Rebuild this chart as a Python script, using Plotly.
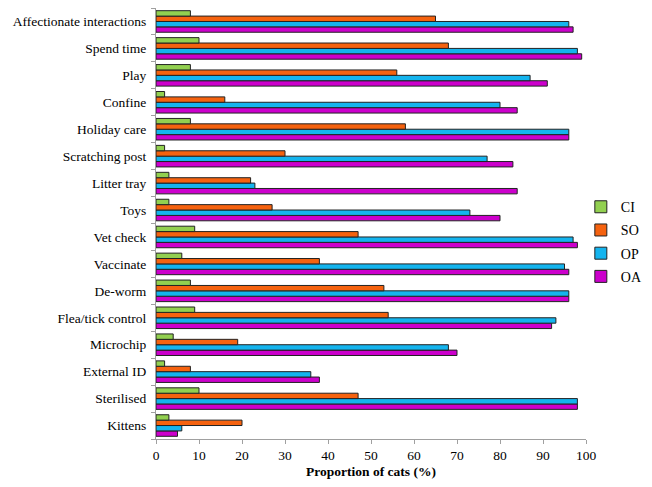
import plotly.graph_objects as go

categories = ["Kittens", "Sterilised", "External ID", "Microchip", "Flea/tick control",
              "De-worm", "Vaccinate", "Vet check", "Toys", "Litter tray",
              "Scratching post", "Holiday care", "Confine", "Play", "Spend time",
              "Affectionate interactions"]

CI = [3, 10, 2, 4, 9, 8, 6, 9, 3, 3, 2, 8, 2, 8, 10, 8]
SO = [20, 47, 8, 19, 54, 53, 38, 47, 27, 22, 30, 58, 16, 56, 68, 65]
OP = [6, 98, 36, 68, 93, 96, 95, 97, 73, 23, 77, 96, 80, 87, 98, 96]
OA = [5, 98, 38, 70, 92, 96, 96, 98, 80, 84, 83, 96, 84, 91, 99, 97]

x_ticks = [0, 10, 20, 30, 40, 50, 60, 70, 80, 90, 100]

# drawn bottom-to-top within each group; legend ranks give CI, SO, OP, OA
series = [("OA", OA, "#CC00CC", 4), ("OP", OP, "#14B4EE", 3),
          ("SO", SO, "#F5620F", 2), ("CI", CI, "#92D050", 1)]

fig = go.Figure()
for name, vals, col, rank in series:
    fig.add_trace(go.Bar(
        y=categories, x=vals, name=name, orientation="h",
        legendgroup=name, legendrank=rank,
        marker=dict(color=col, line=dict(color="#222222", width=1)),
    ))

font_family = "Liberation Serif"
fig.update_layout(
    width=636, height=471,
    barmode="group", bargap=0.2, bargroupgap=0,
    plot_bgcolor="white", paper_bgcolor="white",
    margin=dict(l=148, r=58, t=0, b=40, autoexpand=False),
    font=dict(family=font_family, size=14, color="black"),
    legend=dict(traceorder="grouped", x=0.988, y=0.575, xanchor="left", yanchor="top",
                font=dict(size=14), itemwidth=30, tracegroupgap=2),
    showlegend=True,
)
fig.update_xaxes(range=[0, 100], tickvals=x_ticks, showgrid=False, zeroline=False,
                 showline=True, linecolor="#A0A0A0", linewidth=1,
                 ticks="outside", tickcolor="#A0A0A0", ticklen=4,
                 tickfont=dict(size=13.5), automargin=False,
                 title=dict(text="<b>Proportion of cats (%)</b>", font=dict(size=13.5), standoff=7))
fig.update_yaxes(showgrid=False, showline=True, linecolor="#A0A0A0", linewidth=1,
                 ticks="outside", tickson="boundaries", tickcolor="#A0A0A0", ticklen=4,
                 tickfont=dict(size=13.5), range=[-0.5, 15.5], automargin=False,
                 ticklabelstandoff=6)

fig.write_html("out.html")
